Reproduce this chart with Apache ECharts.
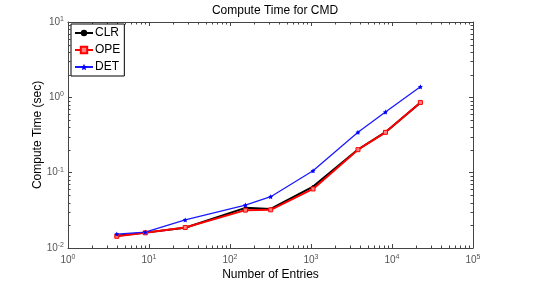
<!DOCTYPE html>
<html>
<head>
<meta charset="utf-8">
<script src="https://cdn.jsdelivr.net/npm/echarts@6/dist/echarts.min.js"></script>
<style>html,body{margin:0;padding:0;background:#fff}#c{width:554px;height:283px}</style>
</head>
<body>
<div id="c"></div>
<script>
var entries = [4, 9, 28, 155, 318, 1060, 3800, 8300, 22400];
var clr = [0.0145, 0.0160, 0.0186, 0.0341, 0.0330, 0.0653, 0.203, 0.345, 0.850];
var ope = [0.0143, 0.0159, 0.0187, 0.0318, 0.0321, 0.0608, 0.202, 0.343, 0.855];
var det = [0.0153, 0.0162, 0.0236, 0.0372, 0.0480, 0.106, 0.343, 0.637, 1.38];
var xTicks = [1, 10, 100, 1000, 10000, 100000];
var yTicks = [0.01, 0.1, 1, 10];

function pairs(ys) { return entries.map(function (x, i) { return [x, ys[i]]; }); }
function expLabel(v) { return '{b|10}{s|' + Math.round(Math.log10(v)) + '}'; }
var rich = { b: { fontSize: 10, color: '#555', fontFamily: 'Liberation Sans' }, s: { fontSize: 7, color: '#555', verticalAlign: 'top', padding: [0, 0, 6, 0], fontFamily: 'Liberation Sans' } };

var star = 'path://M0,-10L2.9,-4L9.5,-3.1L4.7,1.5L5.9,8.1L0,5L-5.9,8.1L-4.7,1.5L-9.5,-3.1L-2.9,-4Z';
var chart = echarts.init(document.getElementById('c'));
var baseX = { type: 'log', logBase: 10, min: 1, max: 100000, splitLine: { show: false } };
var baseY = { type: 'log', logBase: 10, min: 0.01, max: 10, splitLine: { show: false } };
chart.setOption({
  animation: false,
  textStyle: { fontFamily: 'Liberation Sans' },
  title: { text: 'Compute Time for CMD', left: 270, textAlign: 'center', top: 0, textStyle: { fontSize: 12, fontWeight: 'normal', color: '#000' } },
  grid: { left: 68, right: 81, top: 22, bottom: 35, show: false, outerBoundsMode: 'none', containLabel: false },
  legend: {
    orient: 'vertical', left: 71, top: 24, borderColor: '#000', borderWidth: 1, backgroundColor: '#fff',
    padding: [3, 4, 3, 3], itemWidth: 18, itemHeight: 8, itemGap: 5,
    textStyle: { fontSize: 12, color: '#000', padding: [0, 0, 0, -3] },
    data: ['CLR', 'OPE', 'DET']
  },
  xAxis: [
    Object.assign({}, baseX, {
      name: 'Number of Entries', nameLocation: 'middle', nameGap: 21, nameMoveOverlap: false,
      nameTextStyle: { fontSize: 12, color: '#000', verticalAlign: 'top' },
      axisLine: { lineStyle: { color: '#444', width: 1 } },
      axisTick: { inside: true, length: 4, lineStyle: { color: '#444' } },
      axisLabel: { formatter: expLabel, rich: rich, margin: 6 }
    }),
    Object.assign({}, baseX, {
      position: 'top',
      axisLine: { lineStyle: { color: '#444', width: 1 } },
      axisTick: { inside: true, length: 4, lineStyle: { color: '#444' } },
      axisLabel: { show: false }
    })
  ],
  yAxis: [
    Object.assign({}, baseY, {
      name: 'Compute Time (sec)', nameLocation: 'middle', nameGap: 24, nameRotate: 90, nameMoveOverlap: false,
      nameTextStyle: { fontSize: 12, color: '#000' },
      axisLine: { lineStyle: { color: '#444', width: 1 } },
      axisTick: { inside: true, length: 4, lineStyle: { color: '#444' } },
      axisLabel: { formatter: expLabel, rich: rich, margin: 4 }
    }),
    Object.assign({}, baseY, {
      position: 'right',
      axisLine: { lineStyle: { color: '#444', width: 1 } },
      axisTick: { inside: true, length: 4, lineStyle: { color: '#444' } },
      axisLabel: { show: false }
    })
  ],
  series: [
    { name: 'CLR', type: 'line', data: pairs(clr), color: '#000', symbol: 'circle', symbolSize: 3, lineStyle: { width: 2, color: '#000' }, itemStyle: { color: '#000' } },
    { name: 'OPE', type: 'line', data: pairs(ope), color: '#ff0000', symbol: 'rect', symbolSize: 4, lineStyle: { width: 2, color: '#ff0000' }, itemStyle: { color: '#ff8080', borderColor: '#ff0000', borderWidth: 1 } },
    { name: 'DET', type: 'line', data: pairs(det), color: '#0000ff', symbol: star, symbolSize: 5, lineStyle: { width: 1.3, color: '#1a1aff' }, itemStyle: { color: '#0000ff' } }
  ]
});

// minor ticks at 2..9 x 10^k on all four sides, placed through the axes' own scales
function drawMinor() {
  var els = [];
  var L = chart.convertToPixel({ xAxisIndex: 0 }, 1), R = chart.convertToPixel({ xAxisIndex: 0 }, 100000);
  var B = chart.convertToPixel({ yAxisIndex: 0 }, 0.01), T = chart.convertToPixel({ yAxisIndex: 0 }, 10);
  var st = { stroke: '#444', lineWidth: 1 };
  for (var d = 0; d < 5; d++) for (var m = 2; m <= 9; m++) {
    var x = Math.round(chart.convertToPixel({ xAxisIndex: 0 }, m * Math.pow(10, d))) + 0.5;
    els.push({ type: 'line', shape: { x1: x, y1: B, x2: x, y2: B - 2.5 }, style: st, silent: true });
    els.push({ type: 'line', shape: { x1: x, y1: T, x2: x, y2: T + 2.5 }, style: st, silent: true });
  }
  for (var e = -2; e < 1; e++) for (var n = 2; n <= 9; n++) {
    var y = Math.round(chart.convertToPixel({ yAxisIndex: 0 }, n * Math.pow(10, e))) + 0.5;
    els.push({ type: 'line', shape: { x1: L, y1: y, x2: L + 2.5, y2: y }, style: st, silent: true });
    els.push({ type: 'line', shape: { x1: R, y1: y, x2: R - 2.5, y2: y }, style: st, silent: true });
  }
  chart.setOption({ graphic: els });
}
drawMinor();
</script>
</body>
</html>
